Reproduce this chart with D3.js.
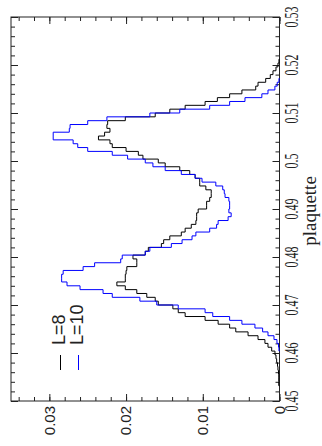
<!DOCTYPE html>
<html>
<head>
<meta charset="utf-8">
<script src="https://cdn.jsdelivr.net/npm/d3@7"></script>
<style>
  body { margin: 0; background: #fff; }
  svg { display: block; }
</style>
</head>
<body>
<div id="chart"></div>
<script>
// histogram bins (lower edge of each plaquette bin, width 0.0008)
const BIN_WIDTH = 0.0008;
const plaquetteBins = [
  0.4500,0.4508,0.4516,0.4524,0.4532,0.4540,0.4548,0.4556,0.4564,0.4572,
  0.4580,0.4588,0.4596,0.4604,0.4612,0.4620,0.4628,0.4636,0.4644,0.4652,
  0.4660,0.4668,0.4676,0.4684,0.4692,0.4700,0.4708,0.4716,0.4724,0.4732,
  0.4740,0.4748,0.4756,0.4764,0.4772,0.4780,0.4788,0.4796,0.4804,0.4812,
  0.4820,0.4828,0.4836,0.4844,0.4852,0.4860,0.4868,0.4876,0.4884,0.4892,
  0.4900,0.4908,0.4916,0.4924,0.4932,0.4940,0.4948,0.4956,0.4964,0.4972,
  0.4980,0.4988,0.4996,0.5004,0.5012,0.5020,0.5028,0.5036,0.5044,0.5052,
  0.5060,0.5068,0.5076,0.5084,0.5092,0.5100,0.5108,0.5116,0.5124,0.5132,
  0.5140,0.5148,0.5156,0.5164,0.5172,0.5180,0.5188,0.5196,0.5204,0.5212
];

const densityL8 = [
  0, 0, 0, 0, 0.0001, 0.0001, 0.0001, 0.00013, 0.0002, 0.00026,
  0.00037, 0.00046, 0.00059, 0.00102, 0.0015, 0.0019, 0.0028, 0.0041, 0.0057, 0.0065,
  0.0080, 0.0097, 0.0123, 0.0132, 0.0139, 0.0158, 0.0162, 0.0173, 0.0186, 0.0201,
  0.0212, 0.0201, 0.0201, 0.0200, 0.0199, 0.0186, 0.0186, 0.0191, 0.0175, 0.0171,
  0.0154, 0.0151, 0.0143, 0.0128, 0.0123, 0.0115, 0.0109, 0.0108, 0.0108, 0.0106,
  0.0095, 0.0095, 0.0091, 0.0089, 0.0089, 0.0096, 0.0104, 0.0104, 0.0110, 0.0117,
  0.0130, 0.0149, 0.0158, 0.0178, 0.0184, 0.0200, 0.0218, 0.0221, 0.0236, 0.0228,
  0.0221, 0.0225, 0.0224, 0.0201, 0.0162, 0.0143, 0.0123, 0.0097, 0.0081, 0.0065,
  0.0049, 0.0031, 0.0028, 0.0018, 0.0012, 0.00085, 0.00046, 0.0002, 0.00007, 0
];

const densityL10 = [
  0, 0, 0, 0, 0, 0, 0, 0, 0, 0,
  0, 0, 0, 0.00007, 0.00013, 0.00033, 0.00072, 0.0015, 0.0022, 0.0032,
  0.0049, 0.0065, 0.0087, 0.0097, 0.0132, 0.0160, 0.0182, 0.0218, 0.0230, 0.0260,
  0.0277, 0.0284, 0.0284, 0.0282, 0.0256, 0.0241, 0.0207, 0.0205, 0.0175, 0.0169,
  0.0141, 0.0127, 0.0114, 0.0109, 0.0091, 0.0082, 0.0080, 0.0067, 0.0063, 0.0066,
  0.0065, 0.0065, 0.0066, 0.0071, 0.0072, 0.0074, 0.0083, 0.0101, 0.0110, 0.0128,
  0.0149, 0.0165, 0.0175, 0.0198, 0.0218, 0.0250, 0.0263, 0.0269, 0.0295, 0.0295,
  0.0274, 0.0273, 0.0250, 0.0225, 0.0169, 0.0130, 0.0091, 0.0065, 0.0045, 0.0023,
  0.0015, 0.0006, 0.0003, 0.00007, 0, 0, 0, 0, 0, 0
];

const plaquetteTicks = [0.45, 0.46, 0.47, 0.48, 0.49, 0.50, 0.51, 0.52, 0.53];
const plaquetteLabels = ["0.45", "0.46", "0.47", "0.48", "0.49", "0.5", "0.51", "0.52", "0.53"];
const densityTicks = [0, 0.01, 0.02, 0.03];
const densityLabels = ["0", "0.01", "0.02", "0.03"];
const seriesNames = ["L=8", "L=10"];
const seriesColors = ["#000000", "#0000ff"];

const W = 322, H = 446;
const frameL = 11, frameR = 279.5, frameT = 17, frameB = 401;

const svg = d3.select("#chart").append("svg")
  .attr("width", W)
  .attr("height", H);

// plot is drawn rotated: plaquette runs upwards, density runs leftwards
const x = d3.scaleLinear().domain([0, 0.035]).range([frameR, frameL]);
const y = d3.scaleLinear().domain([0.45, 0.53]).range([frameB, frameT]);

const minorP = d3.range(0.45, 0.5301, 0.002);
const minorD = d3.range(0, 0.0351, 0.002);

function tickAxis(axis, scale, values, size, transform) {
  const g = svg.append("g")
    .attr("transform", transform)
    .call(axis(scale).tickValues(values).tickSize(-size).tickFormat(""));
  g.select(".domain").remove();
  g.selectAll("line").attr("stroke", "#222").attr("stroke-width", 1);
}

// ticks on all four sides, pointing inwards
[[minorP, 4], [plaquetteTicks, 7]].forEach(([vals, s]) => {
  tickAxis(d3.axisRight, y, vals, s, `translate(${frameR},0)`);
  tickAxis(d3.axisLeft, y, vals, s, `translate(${frameL},0)`);
});
[[minorD, 4], [densityTicks, 7]].forEach(([vals, s]) => {
  tickAxis(d3.axisBottom, x, vals, s, `translate(0,${frameB})`);
  tickAxis(d3.axisTop, x, vals, s, `translate(0,${frameT})`);
});

svg.append("rect")
  .attr("x", frameL).attr("y", frameT)
  .attr("width", frameR - frameL).attr("height", frameB - frameT)
  .attr("fill", "none")
  .attr("stroke", "#222")
  .attr("stroke-width", 1);

// step histograms
const line = d3.line()
  .x(d => x(d.v))
  .y(d => y(d.p))
  .curve(d3.curveStepBefore);

[densityL8, densityL10].forEach((vals, i) => {
  const first = vals.findIndex(v => v > 0);
  let last = vals.length - 1;
  while (vals[last] === 0) last--;
  const pts = [];
  for (let k = first; k <= last; k++) pts.push({p: plaquetteBins[k], v: vals[k]});
  pts.push({p: plaquetteBins[last] + BIN_WIDTH, v: 0});
  pts.unshift({p: plaquetteBins[first], v: 0});
  svg.append("path")
    .attr("d", line(pts))
    .attr("fill", "none")
    .attr("stroke", seriesColors[i])
    .attr("stroke-width", 1);
});

// plaquette tick labels (right side, rotated)
svg.append("g").selectAll("text")
  .data(plaquetteTicks)
  .enter().append("text")
  .attr("transform", d => `translate(297.5,${y(d)}) rotate(-90) scale(1,1.5)`)
  .attr("text-anchor", "middle")
  .attr("font-family", "'Liberation Serif', 'Times New Roman', serif")
  .attr("font-size", 12)
  .attr("fill", "#222")
  .text((d, i) => plaquetteLabels[i]);

svg.append("text")
  .attr("transform", `translate(315.5,${(frameT + frameB) / 2 + 2}) rotate(-90)`)
  .attr("text-anchor", "middle")
  .attr("font-family", "'Liberation Serif', 'Times New Roman', serif")
  .attr("font-size", 19)
  .attr("fill", "#222")
  .text("plaquette");

// density tick labels (bottom, rotated)
svg.append("g").selectAll("text")
  .data(densityTicks)
  .enter().append("text")
  .attr("transform", d => `translate(${x(d)},406) rotate(-90)`)
  .attr("text-anchor", "end")
  .attr("dy", "0.35em")
  .attr("font-family", "'Liberation Sans', Arial, sans-serif")
  .attr("font-size", 15)
  .attr("fill", "#222")
  .text((d, i) => densityLabels[i]);

// legend
const legendX = [65, 83];
seriesNames.forEach((name, i) => {
  svg.append("line")
    .attr("x1", legendX[i] - 4.5).attr("x2", legendX[i] - 4.5)
    .attr("y1", 355).attr("y2", 370)
    .attr("stroke", seriesColors[i])
    .attr("stroke-width", 1);
  svg.append("text")
    .attr("transform", `translate(${legendX[i]},345) rotate(-90)`)
    .attr("font-family", "'Liberation Sans', Arial, sans-serif")
    .attr("font-size", 18)
    .attr("fill", "#222")
    .text(name);
});
</script>
</body>
</html>
